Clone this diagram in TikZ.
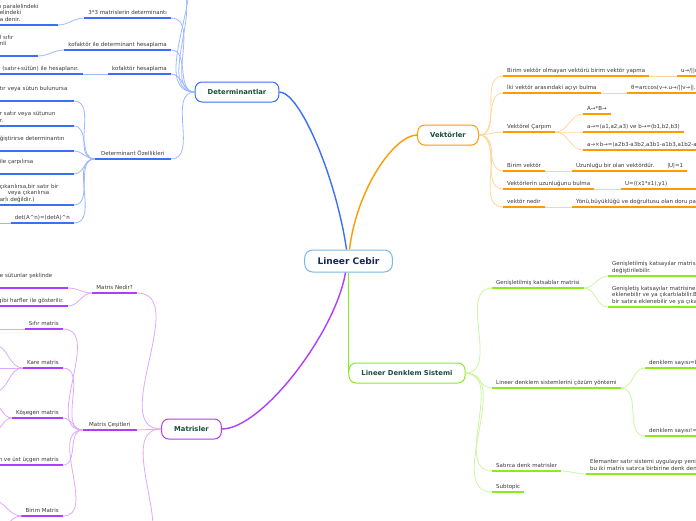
\documentclass[tikz,border=0pt]{standalone}
\usepackage{fontspec}
\setmainfont{DejaVu Sans}
\usetikzlibrary{positioning}
\definecolor{detmain}{HTML}{3A6FF7}
\definecolor{detlite}{HTML}{9DB8FF}
\definecolor{vekmain}{HTML}{FF9A00}
\definecolor{veklite}{HTML}{FFD699}
\definecolor{matmain}{HTML}{B03CFF}
\definecolor{matlite}{HTML}{DDA8FF}
\definecolor{linmain}{HTML}{8CEB1E}
\definecolor{linlite}{HTML}{CCF5A3}
\definecolor{rootline}{HTML}{7DB7E6}
\definecolor{roottext}{HTML}{16265A}
\definecolor{topictext}{HTML}{1B4D3E}
\definecolor{subtext}{HTML}{383838}
\newcommand\subsize{\fontsize{5.5}{6.5}\selectfont}
\newcommand\topicsize{\fontsize{6.8}{8}\selectfont}
\tikzset{
  root/.style   = { rectangle, rounded corners=8pt, draw=rootline, line width=1pt, fill=white,
                    font=\bfseries\fontsize{9}{10}\selectfont, text=roottext,
                    minimum height=22pt, inner xsep=13pt },
  topic/.style  = { rectangle, rounded corners=7pt, draw=#1, line width=1pt, fill=white,
                    font=\bfseries\topicsize, text=topictext, minimum height=20pt, inner xsep=12.5pt },
  sub/.style    = { font=\subsize, text=subtext, inner xsep=4pt, inner ysep=1.5pt,
                    execute at end node=\strut,
                    append after command={(\tikzlastnode.south west) edge[line width=1.6pt, draw=#1] (\tikzlastnode.south east)} },
  lsub/.style   = { sub=#1, anchor=south east },
  rsub/.style   = { sub=#1, anchor=south west },
  branch/.style = { line width=1.4pt, draw=#1 },
  link/.style   = { line width=0.8pt, draw=#1 },
}
\begin{document}
\begin{tikzpicture}[x=1pt,y=-1pt]
  \useasboundingbox (0,0) rectangle (696,520);

  % centre and main topics
  \node (cebir) [root]          at (348.5,261) {Lineer Cebir};
  \node (det)   [topic=detmain] at (237,92)    {Determinantlar};
  \node (vek)   [topic=vekmain] at (448,135)   {Vektörler};
  \node (mat)   [topic=matmain] at (191.5,429) {Matrisler};
  \node (lds)   [topic=linmain] at (407,373)   {Lineer Denklem Sistemi};

  \draw [branch=detmain] ([xshift=-2pt]cebir.north) .. controls +(-10,-70) and +(21,0) .. (det.east);
  \draw [branch=vekmain] ([xshift=1pt]cebir.north) .. controls +(7,-60) and +(-23,0) .. (vek.west);
  \draw [branch=matmain] ([xshift=-3pt]cebir.south) .. controls +(-10,60) and +(40,0) .. (mat.east);
  \draw [branch=linmain] (cebir.south) -- (cebir.south |- lds.west);

  % Determinantlar
  \coordinate (detup1) at (171,-14);
  \coordinate (detup2) at (171,-42);
  \node (det33)  [lsub=detmain] at (171,18) {3*3 matrislerin determinantı};
  \node (detkof) [lsub=detmain] at (171,50) {kofaktör ile determinant hesaplama};
  \node (kofhes) [lsub=detmain] at (171,74) {kofaktör hesaplama};
  \node (detoz)  [lsub=detmain, minimum width=76pt] at (171,159) {Determinant Özellikleri};
  \draw [link=detlite] (detup1) to[out=0,in=180] (det.west);
  \draw [link=detlite] (detup2) to[out=0,in=180] (det.west);
  \draw [link=detlite] (det33.south east) to[out=0,in=180] (det.west);
  \draw [link=detlite] (detkof.south east) to[out=0,in=180] (det.west);
  \draw [link=detlite] (kofhes.south east) to[out=0,in=180] (det.west);
  \draw [link=detlite] (detoz.south east) to[out=0,in=180] (det.west);

  \node (sarrus) [lsub=detmain, text width=54pt, align=left] at (58,25) {ı paralelindeki\\elindeki\\a denir.};
  \node (kofsif) [lsub=detmain, text width=34pt, align=left] at (38,56) {l sıfır\\nli\\\mbox{}};
  \node (kofisr) [lsub=detmain] at (83,74) {(satır+sütün) ile hesaplanır.};
  \draw [link=detlite] (sarrus.south east) to[out=0,in=180] (det33.south west);
  \draw [link=detlite] (kofsif.south east) to[out=0,in=180] (detkof.south west);
  \draw [link=detlite] (kofisr.south east) -- (kofhes.south west);

  \node (oz1) [lsub=detmain, text width=70pt, align=left] at (74,101) {tır veya sütun bulunursa\\\mbox{}};
  \node (oz2) [lsub=detmain, text width=70pt, align=left] at (74,126) {r satır veya sütunun\\r.};
  \node (oz3) [lsub=detmain, text width=70pt, align=left] at (74,151) {ğiştirirse determinantın\\\mbox{}};
  \node (oz4) [lsub=detmain, text width=70pt, align=left] at (74,174) {ile çarpılırsa\\\mbox{}};
  \node (oz5) [lsub=detmain, text width=70pt, align=left] at (74,205) {çıkarılırsa,bir satır bir\\\hspace*{8pt}veya çıkarılırsa\\arlı değildir.)};
  \node (oz6) [lsub=detmain] at (74,223) {det(A\textasciicircum n)=(detA)\textasciicircum n};
  \coordinate (oz6l) at (-6,223);
  \draw [link=detlite] (oz1.south east) to[out=0,in=180] (detoz.south west);
  \draw [link=detlite] (oz2.south east) to[out=0,in=180] (detoz.south west);
  \draw [link=detlite] (oz3.south east) to[out=0,in=180] (detoz.south west);
  \draw [link=detlite] (oz4.south east) to[out=0,in=180] (detoz.south west);
  \draw [link=detlite] (oz5.south east) to[out=0,in=180] (detoz.south west);
  \draw [link=detlite] (oz6.south east) to[out=0,in=180] (detoz.south west);
  \draw [link=detlite] (oz6.south west) -- (oz6l);

  % Vektörler
  \node (vyap)   [rsub=vekmain] at (503,76)  {Birim vektör olmayan vektörü birim vektör yapma};
  \node (vaci)   [rsub=vekmain] at (503,93)  {İki vektör arasındaki açıyı bulma};
  \node (vcarp)  [rsub=vekmain] at (503,132) {Vektörel Çarpım};
  \node (vbirim) [rsub=vekmain] at (503,171) {Birim vektör};
  \node (vuzun)  [rsub=vekmain] at (503,189) {Vektörlerin uzunluğunu bulma};
  \node (vnedir) [rsub=vekmain] at (503,207) {vektör nedir};
  \draw [link=veklite] (vek.east) to[out=0,in=180] (vyap.south west);
  \draw [link=veklite] (vek.east) to[out=0,in=180] (vaci.south west);
  \draw [link=veklite] (vek.east) to[out=0,in=180] (vcarp.south west);
  \draw [link=veklite] (vek.east) to[out=0,in=180] (vbirim.south west);
  \draw [link=veklite] (vek.east) to[out=0,in=180] (vuzun.south west);
  \draw [link=veklite] (vek.east) to[out=0,in=180] (vnedir.south west);

  \node (vyapf)   [rsub=vekmain] at (677,76)  {u→/||u→||};
  \node (vacif)   [rsub=vekmain] at (627,93)  {θ=arccos(v→.u→/||v→||.||u→||)};
  \node (vcarp1)  [rsub=vekmain] at (583,114) {A→*B→};
  \node (vcarp2)  [rsub=vekmain] at (583,132) {a→=(a1,a2,a3) ve b→=(b1,b2,b3)};
  \node (vcarp3)  [rsub=vekmain] at (583,150) {a→×b→=(a2b3-a3b2,a3b1-a1b3,a1b2-a2b1)};
  \node (vbirimt) [rsub=vekmain] at (572,171) {Uzunluğu bir olan vektördür.\hspace{13pt}|U|=1};
  \node (vuzunf)  [rsub=vekmain] at (621,189) {U=((x1*x1),y1)\hspace{30pt}|U|};
  \node (vnedirt) [rsub=vekmain] at (572,207) {Yönü,büyüklüğü ve doğrultusu olan doru parçası};
  \draw [link=veklite] (vyap.south east) -- (vyapf.south west);
  \draw [link=veklite] (vaci.south east) -- (vacif.south west);
  \draw [link=veklite] (vcarp.south east) to[out=0,in=180] (vcarp1.south west);
  \draw [link=veklite] (vcarp.south east) to[out=0,in=180] (vcarp2.south west);
  \draw [link=veklite] (vcarp.south east) to[out=0,in=180] (vcarp3.south west);
  \draw [link=veklite] (vbirim.south east) -- (vbirimt.south west);
  \draw [link=veklite] (vuzun.south east) -- (vuzunf.south west);
  \draw [link=veklite] (vnedir.south east) -- (vnedirt.south west);

  % Lineer Denklem Sistemi
  \node (gkm)     [rsub=linmain] at (492,288) {Genişletilmiş katsablar matrisi};
  \node (cozum)   [rsub=linmain] at (492,388) {Lineer denklem sistemlerini çözüm yöntemi};
  \node (satirca) [rsub=linmain] at (492,471) {Satırca denk matrisler};
  \node (lsubt)   [rsub=linmain] at (492,492) {Subtopic};
  \draw [link=linlite] (lds.east) to[out=0,in=180] (gkm.south west);
  \draw [link=linlite] (lds.east) to[out=0,in=180] (cozum.south west);
  \draw [link=linlite] (lds.east) to[out=0,in=180] (satirca.south west);
  \draw [link=linlite] (lds.east) to[out=0,in=180] (lsubt.south west);

  \node (gkm1) [rsub=linmain, text width=120pt, align=left] at (608,276) {Genişletilmiş katsayılar matrisi\\değiştirilebilir.};
  \node (gkm2) [rsub=linmain, text width=120pt, align=left] at (608,307) {Genişletiş katsayılar matrisine\\eklenebilir ve ya çıkartılabilir.Bir\\bir satıra eklenebilir ve ya çıkarılabilir.};
  \node (coz1) [rsub=linmain] at (645,368) {denklem sayısı=bilinmeyen sayısı};
  \node (coz2) [rsub=linmain] at (645,436) {denklem sayısı!=bilinmeyen sayısı};
  \node (satf) [rsub=linmain, align=left] at (586,474) {Elemanter satır sistemi uygulayıp yeni matris elde edilirse\\bu iki matris satırca birbirine denk denir.};
  \draw [link=linlite] (gkm.south east) to[out=0,in=180] (gkm1.south west);
  \draw [link=linlite] (gkm.south east) to[out=0,in=180] (gkm2.south west);
  \draw [link=linlite] (cozum.south east) to[out=0,in=180] (coz1.south west);
  \draw [link=linlite] (cozum.south east) to[out=0,in=180] (coz2.south west);
  \draw [link=linlite] (satirca.south east) to[out=0,in=180] (satf.south west);

  % Matrisler
  \coordinate (mdown) at (135,552);
  \node (mnedir) [lsub=matmain] at (137,293) {Matris Nedir?};
  \node (mcesit) [lsub=matmain, minimum width=54pt] at (137,430) {Matris Çeşitleri};
  \draw [link=matlite] (mnedir.south east) to[out=0,in=180] (mat.west);
  \draw [link=matlite] (mcesit.south east) -- (mat.west);
  \draw [link=matlite] (mdown) to[out=0,in=180] (mat.west);

  \node (mtanim) [lsub=matmain, text width=64pt, align=left] at (68,288) {e sütunlar şeklinde\\\mbox{}};
  \node (mharf)  [lsub=matmain] at (68,306) {gibi harfler ile gösterilir.};
  \draw [link=matlite] (mtanim.south east) to[out=0,in=180] (mnedir.south west);
  \draw [link=matlite] (mharf.south east) to[out=0,in=180] (mnedir.south west);

  \node (msifir) [lsub=matmain] at (63,329) {Sıfır matris};
  \node (mkare)  [lsub=matmain] at (63,368) {Kare matris};
  \node (mkose)  [lsub=matmain] at (63,418) {Köşegen matris};
  \node (mucgen) [lsub=matmain] at (63,465) {Alt üçgen ve üst üçgen matris};
  \node (mbirim) [lsub=matmain] at (63,516) {Birim Matris};
  \draw [link=matlite] (msifir.south east) to[out=0,in=180] (mcesit.south west);
  \draw [link=matlite] (mkare.south east) to[out=0,in=180] (mcesit.south west);
  \draw [link=matlite] (mkose.south east) to[out=0,in=180] (mcesit.south west);
  \draw [link=matlite] (mucgen.south east) to[out=0,in=180] (mcesit.south west);
  \draw [link=matlite] (mbirim.south east) to[out=0,in=180] (mcesit.south west);

  \coordinate (sifirl) at (-6,329);
  \coordinate (karea)  at (-6,345);
  \coordinate (kareb)  at (-6,368);
  \coordinate (karec)  at (-6,392);
  \coordinate (kosea)  at (-8,404);
  \coordinate (koseb)  at (-8,432);
  \coordinate (birima) at (-8,500);
  \coordinate (birimb) at (-8,534);
  \draw [link=matlite] (msifir.south west) -- (sifirl);
  \draw [link=matlite] (mkare.south west) to[out=180,in=0] (karea);
  \draw [link=matlite] (mkare.south west) -- (kareb);
  \draw [link=matlite] (mkare.south west) to[out=180,in=0] (karec);
  \draw [link=matlite] (mkose.south west) to[out=180,in=0] (kosea);
  \draw [link=matlite] (mkose.south west) to[out=180,in=0] (koseb);
  \draw [link=matlite] (mbirim.south west) to[out=180,in=0] (birima);
  \draw [link=matlite] (mbirim.south west) to[out=180,in=0] (birimb);
\end{tikzpicture}
\end{document}
